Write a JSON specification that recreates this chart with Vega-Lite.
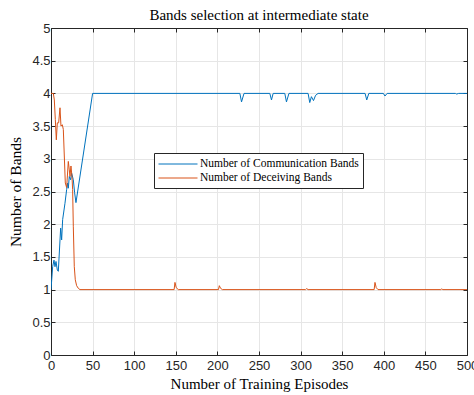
{
  "$schema": "https://vega.github.io/schema/vega-lite/v6.json",
  "width": 416,
  "height": 327,
  "autosize": {"type": "none"},
  "padding": {"left": 51, "top": 28, "right": 7, "bottom": 40},
  "background": "white",
  "title": {"text": "Bands selection at intermediate state", "font": "Liberation Serif", "fontSize": 15, "fontWeight": "normal", "color": "#000000", "offset": -1, "anchor": "middle"},
  "config": {"view": {"stroke": null}},
  "data": {"values": [
    {"ep": 0, "v": 1, "s": "Number of Communication Bands"},
    {"ep": 2, "v": 1.35, "s": "Number of Communication Bands"},
    {"ep": 3.6, "v": 1.45, "s": "Number of Communication Bands"},
    {"ep": 4.8, "v": 1.35, "s": "Number of Communication Bands"},
    {"ep": 6, "v": 1.43, "s": "Number of Communication Bands"},
    {"ep": 7.6, "v": 1.3, "s": "Number of Communication Bands"},
    {"ep": 8.8, "v": 1.28, "s": "Number of Communication Bands"},
    {"ep": 11.6, "v": 1.94, "s": "Number of Communication Bands"},
    {"ep": 12.8, "v": 1.76, "s": "Number of Communication Bands"},
    {"ep": 14, "v": 2.07, "s": "Number of Communication Bands"},
    {"ep": 16.8, "v": 2.32, "s": "Number of Communication Bands"},
    {"ep": 18.8, "v": 2.53, "s": "Number of Communication Bands"},
    {"ep": 20, "v": 2.63, "s": "Number of Communication Bands"},
    {"ep": 20.8, "v": 2.55, "s": "Number of Communication Bands"},
    {"ep": 22, "v": 2.73, "s": "Number of Communication Bands"},
    {"ep": 23.6, "v": 2.68, "s": "Number of Communication Bands"},
    {"ep": 24.8, "v": 2.78, "s": "Number of Communication Bands"},
    {"ep": 26.8, "v": 2.68, "s": "Number of Communication Bands"},
    {"ep": 28.4, "v": 2.48, "s": "Number of Communication Bands"},
    {"ep": 30, "v": 2.33, "s": "Number of Communication Bands"},
    {"ep": 50, "v": 4, "s": "Number of Communication Bands"},
    {"ep": 227, "v": 4, "s": "Number of Communication Bands"},
    {"ep": 229, "v": 3.87, "s": "Number of Communication Bands"},
    {"ep": 232, "v": 4, "s": "Number of Communication Bands"},
    {"ep": 263, "v": 4, "s": "Number of Communication Bands"},
    {"ep": 265, "v": 3.9, "s": "Number of Communication Bands"},
    {"ep": 267, "v": 4, "s": "Number of Communication Bands"},
    {"ep": 281, "v": 4, "s": "Number of Communication Bands"},
    {"ep": 283, "v": 3.87, "s": "Number of Communication Bands"},
    {"ep": 286, "v": 4, "s": "Number of Communication Bands"},
    {"ep": 309, "v": 4, "s": "Number of Communication Bands"},
    {"ep": 311, "v": 3.86, "s": "Number of Communication Bands"},
    {"ep": 313, "v": 3.95, "s": "Number of Communication Bands"},
    {"ep": 315.5, "v": 3.89, "s": "Number of Communication Bands"},
    {"ep": 318, "v": 3.97, "s": "Number of Communication Bands"},
    {"ep": 321, "v": 4, "s": "Number of Communication Bands"},
    {"ep": 377.5, "v": 4, "s": "Number of Communication Bands"},
    {"ep": 379.5, "v": 3.9, "s": "Number of Communication Bands"},
    {"ep": 382, "v": 4, "s": "Number of Communication Bands"},
    {"ep": 399.5, "v": 4, "s": "Number of Communication Bands"},
    {"ep": 401.4, "v": 3.96, "s": "Number of Communication Bands"},
    {"ep": 404, "v": 4, "s": "Number of Communication Bands"},
    {"ep": 486, "v": 4, "s": "Number of Communication Bands"},
    {"ep": 487.6, "v": 3.99, "s": "Number of Communication Bands"},
    {"ep": 490, "v": 4, "s": "Number of Communication Bands"},
    {"ep": 500, "v": 4, "s": "Number of Communication Bands"},
    {"ep": 0, "v": 4, "s": "Number of Deceiving Bands"},
    {"ep": 2.8, "v": 4, "s": "Number of Deceiving Bands"},
    {"ep": 4, "v": 3.9, "s": "Number of Deceiving Bands"},
    {"ep": 5.2, "v": 3.6, "s": "Number of Deceiving Bands"},
    {"ep": 6.4, "v": 3.29, "s": "Number of Deceiving Bands"},
    {"ep": 7.6, "v": 3.55, "s": "Number of Deceiving Bands"},
    {"ep": 9.2, "v": 3.55, "s": "Number of Deceiving Bands"},
    {"ep": 10.8, "v": 3.78, "s": "Number of Deceiving Bands"},
    {"ep": 12, "v": 3.5, "s": "Number of Deceiving Bands"},
    {"ep": 13.6, "v": 3.52, "s": "Number of Deceiving Bands"},
    {"ep": 14.8, "v": 3.45, "s": "Number of Deceiving Bands"},
    {"ep": 17.2, "v": 2.63, "s": "Number of Deceiving Bands"},
    {"ep": 18.8, "v": 2.56, "s": "Number of Deceiving Bands"},
    {"ep": 20.8, "v": 2.96, "s": "Number of Deceiving Bands"},
    {"ep": 22, "v": 2.83, "s": "Number of Deceiving Bands"},
    {"ep": 22.8, "v": 2.73, "s": "Number of Deceiving Bands"},
    {"ep": 24, "v": 2.89, "s": "Number of Deceiving Bands"},
    {"ep": 25.2, "v": 2.73, "s": "Number of Deceiving Bands"},
    {"ep": 26, "v": 2.53, "s": "Number of Deceiving Bands"},
    {"ep": 26.8, "v": 1.97, "s": "Number of Deceiving Bands"},
    {"ep": 28, "v": 1.35, "s": "Number of Deceiving Bands"},
    {"ep": 29.2, "v": 1.15, "s": "Number of Deceiving Bands"},
    {"ep": 30.8, "v": 1.06, "s": "Number of Deceiving Bands"},
    {"ep": 32.8, "v": 1.02, "s": "Number of Deceiving Bands"},
    {"ep": 34.8, "v": 1, "s": "Number of Deceiving Bands"},
    {"ep": 148, "v": 1, "s": "Number of Deceiving Bands"},
    {"ep": 149, "v": 1.11, "s": "Number of Deceiving Bands"},
    {"ep": 150.5, "v": 1.03, "s": "Number of Deceiving Bands"},
    {"ep": 153, "v": 1, "s": "Number of Deceiving Bands"},
    {"ep": 201.3, "v": 1, "s": "Number of Deceiving Bands"},
    {"ep": 202.3, "v": 1.06, "s": "Number of Deceiving Bands"},
    {"ep": 203.8, "v": 1.02, "s": "Number of Deceiving Bands"},
    {"ep": 206, "v": 1, "s": "Number of Deceiving Bands"},
    {"ep": 306, "v": 1, "s": "Number of Deceiving Bands"},
    {"ep": 307.3, "v": 1.015, "s": "Number of Deceiving Bands"},
    {"ep": 309, "v": 1, "s": "Number of Deceiving Bands"},
    {"ep": 388.4, "v": 1, "s": "Number of Deceiving Bands"},
    {"ep": 389.4, "v": 1.11, "s": "Number of Deceiving Bands"},
    {"ep": 390.9, "v": 1.03, "s": "Number of Deceiving Bands"},
    {"ep": 393, "v": 1, "s": "Number of Deceiving Bands"},
    {"ep": 468.6, "v": 1, "s": "Number of Deceiving Bands"},
    {"ep": 469.6, "v": 1.01, "s": "Number of Deceiving Bands"},
    {"ep": 471, "v": 1, "s": "Number of Deceiving Bands"},
    {"ep": 500, "v": 1, "s": "Number of Deceiving Bands"}
  ]},
  "layer": [
    {
      "mark": {"type": "line", "strokeWidth": 1, "clip": true},
      "encoding": {
        "x": {"field": "ep", "type": "quantitative", "scale": {"domain": [0, 500], "nice": false, "zero": false},
          "axis": {"orient": "bottom", "values": [0, 50, 100, 150, 200, 250, 300, 350, 400, 450, 500], "format": "d",
            "grid": true, "gridColor": "#e6e6e6", "gridWidth": 1,
            "domainColor": "#262626", "domainWidth": 1, "tickColor": "#262626", "tickSize": -4, "tickWidth": 1,
            "labelFont": "Liberation Sans", "labelFontSize": 13, "labelColor": "#262626", "labelPadding": 8, "labelFlush": false, "labelOverlap": false, "labelBound": false,
            "title": "Number of Training Episodes", "titleFont": "Liberation Serif", "titleFontSize": 15, "titleFontWeight": "normal", "titleColor": "#000000",
            "titleBaseline": "alphabetic", "titleY": 33}},
        "y": {"field": "v", "type": "quantitative", "scale": {"domain": [0, 5], "nice": false},
          "axis": {"orient": "left", "values": [0, 0.5, 1, 1.5, 2, 2.5, 3, 3.5, 4, 4.5, 5], "format": "~g",
            "grid": true, "gridColor": "#e6e6e6", "gridWidth": 1,
            "domainColor": "#262626", "domainWidth": 1, "tickColor": "#262626", "tickSize": -4, "tickWidth": 1,
            "labelFont": "Liberation Sans", "labelFontSize": 13, "labelColor": "#262626", "labelPadding": 5, "labelOverlap": false, "labelBound": false, "labelFlush": false,
            "title": "Number of Bands", "titleFont": "Liberation Serif", "titleFontSize": 15.5, "titleFontWeight": "normal", "titleColor": "#000000",
            "titleX": -36, "titleY": 163.5, "titleAlign": "center", "titleBaseline": "middle", "titleAngle": -90}},
        "color": {"field": "s", "type": "nominal",
          "scale": {"domain": ["Number of Communication Bands", "Number of Deceiving Bands"], "range": ["#0072BD", "#D95319"]},
          "legend": {"orient": "none", "legendX": 103, "legendY": 125, "direction": "vertical", "title": null,
            "symbolType": "M-1,0H5", "symbolSize": 169, "symbolStrokeWidth": 1,
            "labelFont": "Liberation Serif", "labelFontSize": 11.5, "labelColor": "#000000", "labelOffset": 28,
            "strokeColor": "#262626", "fillColor": "#ffffff", "padding": 4, "rowPadding": 1, "labelLimit": 400}}
      }
    },
    {
      "mark": {"type": "line", "opacity": 0},
      "encoding": {
        "x": {"field": "ep", "type": "quantitative",
          "axis": {"orient": "top", "values": [0, 50, 100, 150, 200, 250, 300, 350, 400, 450, 500], "labels": false, "grid": false, "title": null,
            "domainColor": "#262626", "domainWidth": 1, "tickColor": "#262626", "tickSize": -4, "tickWidth": 1}},
        "y": {"field": "v", "type": "quantitative",
          "axis": {"orient": "right", "values": [0, 0.5, 1, 1.5, 2, 2.5, 3, 3.5, 4, 4.5, 5], "labels": false, "grid": false, "title": null,
            "domainColor": "#262626", "domainWidth": 1, "tickColor": "#262626", "tickSize": -4, "tickWidth": 1}}
      }
    }
  ],
  "resolve": {"axis": {"x": "independent", "y": "independent"}}
}
